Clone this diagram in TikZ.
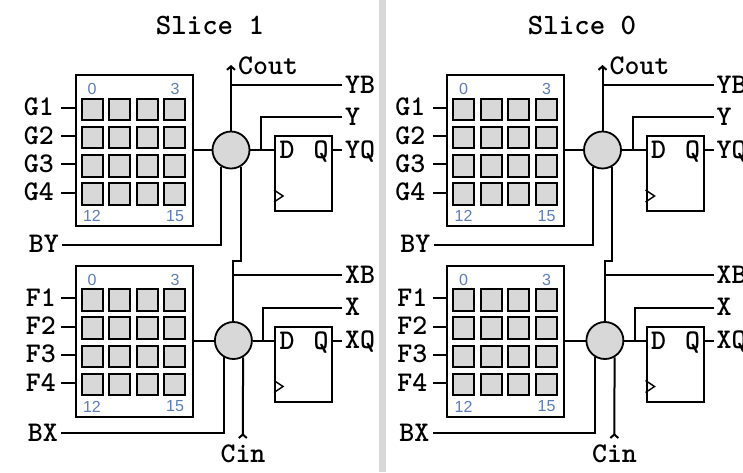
\documentclass[tikz,border=0pt]{standalone}
\usepackage{fontspec}
\setmainfont{Liberation Sans}
\usepackage{xcolor}
\usetikzlibrary{arrows.meta, positioning, calc}

\definecolor{cellgray}{HTML}{D8D8D8}
\definecolor{numblue}{HTML}{5B7DB8}

\tikzset{
    wire/.style={line width=2pt},
    sig/.style={font=\ttfamily\bfseries\fontsize{28.5}{28.5}\selectfont, text height=16pt, text depth=0pt, inner sep=1pt},
    pin/.style={sig, inner xsep=3pt},
    lut/.style={draw, line width=2pt, fill=white, minimum width=117pt, minimum height=151pt, inner sep=0pt},
    cell/.style={draw, line width=2pt, fill=cellgray, minimum width=21pt, minimum height=21.5pt, inner sep=0pt},
    mux/.style={draw, circle, line width=1.8pt, fill=cellgray, minimum size=37pt, inner sep=0pt},
    ff/.style={draw, line width=2pt, fill=white, minimum width=57pt, minimum height=75pt, inner sep=0pt},
    num/.style={font=\fontsize{16}{16}\selectfont, text=numblue, inner sep=0pt}
}

\begin{document}
\begin{tikzpicture}[x=1pt, y=-1pt]
    \useasboundingbox (0,0) rectangle (743,472);

    % Separator
    \fill[cellgray] (379,0) rectangle (386,472);

    \foreach \off/\slicetitle/\tx in {0/Slice 1/210, 371.5/Slice 0/210.5} {
    \begin{scope}[xshift=\off pt]
        % Title
        \node[sig, font=\ttfamily\bfseries\fontsize{29.5}{29.5}\selectfont] (title) at (\tx,26) {\slicetitle};

        % G and F halves
        \foreach \pre/\out/\yo/\xm/\lx in {G/Y/0/0/55, F/X/190.5/2.4/57} {
            % Lookup table
            \node[lut] (lut\pre) at (134,150.5+\yo) {};
            \foreach \r in {1,...,4} {
                \foreach \c in {1,...,4} {
                    \node[cell] (cell\pre\r\c) at ({64.5+27.6*\c},{81+28.3*\r+\yo}) {};
                }
                \node[sig, anchor=east] (\pre\r) at ({\lx},{79.5+28.3*\r+\yo}) {\pre\r};
                \draw[wire] (\pre\r.east -| 61,0) -- (\pre\r.east -| lut\pre.west);
            }
            \node[num] (numa\pre) at (92,89+\yo) {0};
            \node[num] (numb\pre) at (175,89+\yo) {3};
            \node[num] (numc\pre) at (92,216+\yo) {12};
            \node[num] (numd\pre) at (175,216+\yo) {15};

            % Mux and flip-flop
            \node[mux] (mux\pre) at (231+\xm,150+\yo) {};
            \node[ff] (ff\pre) at (303.5,173.5+\yo) {};
            \node[sig] (d\pre) at (287,150.5+\yo) {D};
            \node[sig] (q\pre) at (321,150.5+\yo) {Q};
            \draw[line width=1.4pt] (ff\pre.west |- 0,190+\yo) -- (283,196+\yo) -- (ff\pre.west |- 0,202+\yo);
            \draw[wire] (lut\pre.east |- mux\pre.west) -- (mux\pre.west);
            \draw[wire] (mux\pre.east) -- (mux\pre.east -| ff\pre.west);

            % Outputs
            \node[pin, anchor=west] (\out) at (342,117+\yo) {\out};
            \node[pin, anchor=west] (\out Q) at (342,150+\yo) {\out Q};
            \coordinate (tap\out) at (261+\xm,150+\yo);
            \draw[wire] (\out.west) -| (tap\out);
            \draw[wire] (ff\pre.east |- \out Q.west) -- (\out Q.west);
        }

        % Slice inputs and outputs
        \node[pin, anchor=east] (BY) at (62,244.5) {BY};
        \node[pin, anchor=east] (BX) at (61,433) {BX};
        \node[pin, anchor=west] (YB) at (342,85) {YB};
        \node[pin, anchor=west] (XB) at (342,275) {XB};
        \node[sig, anchor=west] (Cout) at (237,66) {Cout};
        \node[sig] (Cin) at (243,454) {Cin};
        \coordinate (coutTip) at (231,65);
        \coordinate (cinTip) at (242.8,439);
        \coordinate (jog) at (233.4,261);

        \draw[wire, -{Straight Barb[length=3.5pt,width=8pt]}] (muxG.north) -- (coutTip);
        \draw[wire] (YB.west) -- (YB.west -| muxG.north);
        \draw[wire] (BY.east) -| (muxG.-120);
        \draw[wire] (BX.east) -| (muxF.-120);
        \draw[wire] (muxG.-60) |- (jog) -- (muxF.north);
        \draw[wire] (XB.west) -- (XB.west -| muxF.north);
        \draw[wire, {Straight Barb[reversed,length=3.5pt,width=8pt]}-] (cinTip) -- (muxF.-60);
    \end{scope}
    }
\end{tikzpicture}
\end{document}
